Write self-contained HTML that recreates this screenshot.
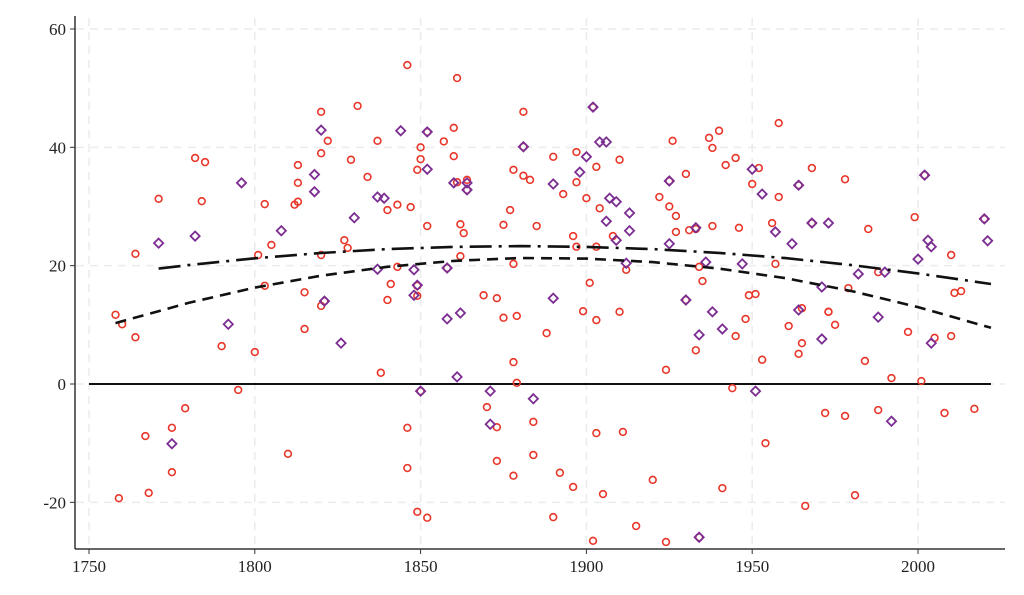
<!DOCTYPE html>
<html><head><meta charset="utf-8"><style>
html,body{margin:0;padding:0;background:#fff;}
svg{display:block;font-family:"Liberation Serif","DejaVu Serif",serif;}
</style></head><body>
<svg id="chart" width="1024" height="595" viewBox="0 0 1024 595" xmlns="http://www.w3.org/2000/svg">
<g id="grid"></g>
<g id="axes"></g>
<g id="marks"></g>
</svg>
<script>
const xTicks = [1750, 1800, 1850, 1900, 1950, 2000];
const yTicks = [-20, 0, 20, 40, 60];
const redYears = [1758,1760,1764,1771,1764,1759,1767,1768,1775,1775,1779,1782,1785,1784,1790,1795,1800,1801,1803,1803,1805,1810,1812,1813,1813,1813,1815,1815,1820,1820,1820,1822,1820,1827,1828,1829,1831,1834,1837,1838,1840,1840,1841,1843,1843,1846,1846,1846,1847,1849,1852,1849,1850,1850,1849,1849,1852,1857,1861,1860,1860,1861,1862,1863,1862,1864,1869,1870,1873,1873,1873,1875,1875,1877,1878,1878,1879,1878,1879,1878,1881,1881,1883,1884,1884,1885,1888,1890,1890,1892,1893,1896,1897,1896,1897,1897,1899,1900,1901,1903,1902,1903,1903,1905,1904,1903,1908,1910,1910,1911,1912,1915,1920,1922,1924,1924,1925,1926,1927,1927,1930,1931,1930,1933,1933,1934,1935,1937,1938,1938,1940,1941,1942,1944,1945,1945,1946,1948,1949,1950,1951,1952,1954,1953,1956,1957,1958,1958,1961,1964,1965,1965,1966,1968,1972,1973,1975,1978,1978,1981,1984,1985,1988,1992,1997,1999,2001,2008,2010,2010,2017,2005,2011,2013,1979,1850,1852,1858,1864,1881,1902,1925,1934,1964,1968,1973,2002,2020,1988,1821];
const redValues = [11.7,10.1,7.9,31.3,22,-19.3,-8.8,-18.4,-7.4,-14.9,-4.1,38.2,37.5,30.9,6.4,-1,5.4,21.8,16.6,30.4,23.5,-11.8,30.3,37,34,30.8,9.3,15.5,21.8,46,39,41.1,13.2,24.3,23,37.9,47,35,41.1,1.9,14.2,29.4,16.9,30.3,19.8,-7.4,-14.2,53.9,29.9,-21.6,-22.6,36.2,38,40,16.6,14.9,26.7,41,51.7,43.3,38.5,34.1,27,25.5,21.6,34.5,15,-3.9,-7.3,-13,14.5,11.2,26.9,29.4,36.2,20.3,11.5,3.7,0.2,-15.5,46,35.2,34.5,-6.4,-12,26.7,8.6,38.4,-22.5,-15,32.1,-17.4,34.1,25,39.2,23.2,12.3,31.4,17.1,23.2,-26.5,-8.3,10.8,-18.6,29.7,36.7,25,37.9,12.2,-8.1,19.3,-24,-16.2,31.6,-26.7,2.4,30,41.1,25.7,28.4,35.5,26,14.2,26.2,5.7,19.8,17.4,41.6,26.7,39.9,42.8,-17.6,37,-0.7,8.1,38.2,26.4,11,15,33.8,15.2,36.5,-10,4.1,27.2,20.3,44.1,31.6,9.8,5.1,6.9,12.8,-20.6,36.5,-4.9,12.2,10,-5.4,34.6,-18.8,3.9,26.2,-4.4,1,8.8,28.2,0.5,-4.9,21.8,8.1,-4.2,7.8,15.4,15.7,16.2,-1.2,42.6,19.6,32.8,40.1,46.8,34.3,-25.9,33.6,27.2,12.2,35.3,27.9,18.9,14];
const purpleYears = [1771,1782,1792,1796,1775,1808,1818,1818,1820,1821,1826,1830,1837,1839,1844,1837,1848,1849,1848,1850,1852,1852,1858,1860,1864,1864,1858,1862,1861,1871,1871,1881,1884,1890,1890,1898,1900,1902,1904,1906,1907,1909,1906,1913,1913,1909,1912,1925,1925,1933,1936,1930,1938,1947,1950,1953,1957,1962,1964,1964,1968,1973,1971,1982,1990,2002,2003,2004,2000,2020,2021,1934,1951,1992,1971,2004,1988,1941,1934];
const purpleValues = [23.8,25,10.1,34,-10.1,25.9,35.4,32.5,42.9,14,6.9,28.1,31.6,31.4,42.8,19.4,19.3,16.7,15,-1.2,42.6,36.3,19.6,34,34,32.8,11,12,1.2,-1.2,-6.8,40.1,-2.5,33.8,14.5,35.8,38.4,46.8,40.9,40.9,31.4,30.8,27.5,28.9,25.9,24.3,20.4,34.3,23.7,26.4,20.6,14.2,12.2,20.3,36.3,32.1,25.7,23.7,33.6,12.5,27.2,27.2,16.4,18.6,18.9,35.3,24.3,23.2,21.1,27.9,24.2,-25.9,-1.2,-6.3,7.6,6.9,11.3,9.3,8.3];
const dashYears = [1758,1780,1800,1820,1840,1860,1880,1900,1920,1940,1960,1980,2000,2022];
const dashValues = [10.3,13.7,16.3,18.3,19.8,20.8,21.3,21.2,20.6,19.5,17.9,15.7,13.0,9.5];
const dashDotYears = [1771,1780,1800,1820,1840,1860,1880,1900,1920,1940,1960,1980,2000,2022];
const dashDotValues = [19.5,20.1,21.25,22.14,22.8,23.17,23.3,23.17,22.8,22.16,21.27,20.1,18.7,16.9];

const NS = "http://www.w3.org/2000/svg";
const X = y => 89 + (y - 1750) * 3.316;
const Y = v => 384 - v * 5.917;
function mk(tag, attrs, parent) {
  const e = document.createElementNS(NS, tag);
  for (const k in attrs) e.setAttribute(k, attrs[k]);
  parent.appendChild(e);
  return e;
}
const grid = document.getElementById('grid'), axes = document.getElementById('axes'), marks = document.getElementById('marks');

yTicks.forEach(t => {
  const g = mk('line', {x1: 76, x2: 1005, y1: Y(t), y2: Y(t), stroke: '#ececec', 'stroke-width': 1.5, 'stroke-dasharray': '8,6'}, grid);
  
  
  const tk = mk('line', {x1: 70, x2: 75, y1: Y(t), y2: Y(t), stroke: '#333', 'stroke-width': 1}, axes);
  
  
  const tx = mk('text', {x: 66, y: Y(t) + 6, 'text-anchor': 'end', 'font-size': 17, fill: '#222'}, axes);
  tx.textContent = t;
  
  
});
xTicks.forEach(t => {
  const g = mk('line', {x1: X(t), x2: X(t), y1: 18, y2: 548, stroke: '#ececec', 'stroke-width': 1.5, 'stroke-dasharray': '8,6'}, grid);
  
  
  const tk = mk('line', {x1: X(t), x2: X(t), y1: 549, y2: 554, stroke: '#333', 'stroke-width': 1}, axes);
  
  
  const tx = mk('text', {x: X(t), y: 572, 'text-anchor': 'middle', 'font-size': 17, fill: '#222'}, axes);
  tx.textContent = t;
  
  
});
const ya = mk('line', {x1: 75, x2: 75, y1: 16, y2: 549, stroke: '#333', 'stroke-width': 1.5}, axes);


const xa = mk('line', {x1: 75, x2: 1005, y1: 549, y2: 549, stroke: '#333', 'stroke-width': 1.5}, axes);


const zl = mk('line', {x1: X(1750), x2: X(2022), y1: Y(0), y2: Y(0), stroke: '#111', 'stroke-width': 2}, marks);



redYears.forEach((yr, i) => {
  const c = mk('circle', {cx: X(yr), cy: Y(redValues[i]), r: 3.4, fill: 'none', stroke: '#e8372a', 'stroke-width': 1.6}, marks);
  
  
});
purpleYears.forEach((yr, i) => {
  const cx = X(yr), cy = Y(purpleValues[i]), s = 4.6;
  const p = mk('polygon', {points: `${cx},${cy-s} ${cx+s},${cy} ${cx},${cy+s} ${cx-s},${cy}`, fill: 'none', stroke: '#7b2d91', 'stroke-width': 1.8}, marks);
  
  
});
function curve(xs, vs) {
  return xs.map((x, i) => (i ? 'L' : 'M') + X(x).toFixed(1) + ',' + Y(vs[i]).toFixed(1)).join(' ');
}
const d1 = mk('path', {d: curve(dashYears, dashValues), fill: 'none', stroke: '#111', 'stroke-width': 2.6, 'stroke-dasharray': '11,7'}, marks);


const d2 = mk('path', {d: curve(dashDotYears, dashDotValues), fill: 'none', stroke: '#111', 'stroke-width': 2.6, 'stroke-dasharray': '22,7,3,7'}, marks);


</script>
</body></html>
